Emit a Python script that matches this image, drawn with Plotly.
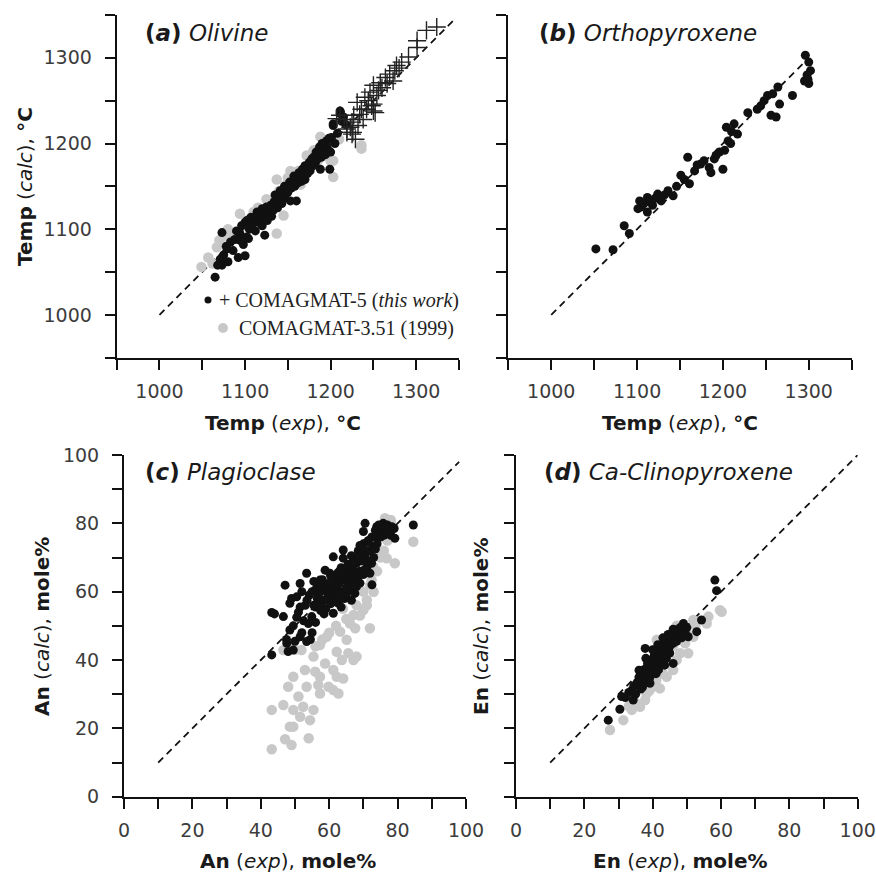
import plotly.graph_objects as go

# ---------------- data ----------------
# (a) Olivine: Temp(exp) vs Temp(calc)
OL_NEW_X = [1065,1068,1071,1073,1075,1078,1080,1083,1086,1088,1090,1092,1094,1096,1098,1100,1100,1102,1104,1105,
            1107,1108,1110,1112,1114,1115,1116,1118,1120,1120,1122,1123,1125,1126,1128,1130,1131,1133,1134,1135,
            1137,1138,1140,1141,1143,1145,1146,1147,1149,1150,1152,1153,1154,1156,1157,1158,1160,1160,1162,1163,
            1164,1166,1167,1168,1170,1170,1172,1173,1175,1176,1178,1179,1180,1182,1183,1185,1186,1187,1188,1189,
            1190,1191,1192,1194,1195,1196,1198,1199,1200,1201,1203,1205,1208,1211,1211,1213,1215,1218,1203,1073,
            1079,1102,1094]
OL_NEW_Y = [1044,1058,1065,1096,1070,1080,1062,1085,1075,1088,1098,1067,1095,1104,1082,1069,1108,1110,1089,1100,
            1114,1105,1112,1098,1120,1108,1118,1112,1104,1124,1116,1093,1126,1110,1120,1128,1115,1122,1132,1140,
            1133,1125,1138,1145,1130,1142,1150,1137,1149,1143,1155,1133,1148,1155,1162,1150,1133,1160,1154,1166,
            1161,1156,1170,1163,1158,1174,1172,1165,1178,1168,1182,1174,1184,1177,1190,1182,1190,1196,1170,1184,
            1200,1192,1196,1187,1203,1195,1206,1170,1190,1207,1221,1200,1212,1235,1238,1226,1231,1222,1223,1058,
            1077,1091,1087]
OL_NEW_HT_X = [1207,1211,1216,1219,1219,1223,1225,1225,1226,1227,1229,1231,1232,1234,1236,1238,1240,1242,1244,1246,
               1248,1250,1250,1250,1252,1254,1256,1258,1260,1264,1266,1269,1273,1275,1277,1280,1283,1291,1301,1301,
               1312,1324]
OL_NEW_HT_Y = [1229,1233,1228,1217,1213,1219,1225,1211,1213,1233,1205,1248,1221,1234,1240,1228,1254,1240,1250,1260,
               1244,1268,1246,1238,1236,1256,1262,1271,1265,1277,1270,1281,1273,1285,1291,1288,1295,1301,1312,1320,
               1332,1336]
OL_OLD_X = [1049,1057,1062,1067,1070,1075,1080,1085,1094,1098,1105,1110,1115,1120,1125,1130,1137,1137,1140,1145,
            1148,1150,1153,1158,1162,1165,1170,1175,1180,1185,1188,1190,1195,1200,1203,1203,1210,1236,1236,1172,1180]
OL_OLD_Y = [1056,1067,1060,1079,1087,1092,1100,1095,1118,1105,1112,1120,1125,1118,1135,1130,1095,1158,1145,1116,
            1152,1160,1168,1158,1168,1152,1165,1170,1175,1180,1208,1185,1190,1180,1161,1180,1205,1198,1194,1186,1192]

# (b) Orthopyroxene
OPX_X = [1052,1072,1085,1091,1103,1105,1112,1112,1118,1124,1128,1136,1142,1151,1161,1159,1167,1174,1184,1186,
         1192,1200,1202,1206,1204,1213,1217,1229,1244,1248,1252,1256,1262,1266,1264,1281,1296,1300,1302,1299,
         1300,1295,1101,1108,1115,1121,1132,1146,1155,1170,1178,1190,1196,1209,1210,1240,1258,1298]
OPX_Y = [1077,1076,1104,1095,1133,1126,1137,1120,1128,1141,1133,1145,1139,1163,1153,1184,1168,1176,1172,1166,
         1186,1170,1192,1203,1219,1223,1211,1236,1244,1250,1256,1233,1231,1246,1266,1256,1303,1295,1285,1275,
         1270,1273,1124,1130,1132,1136,1140,1150,1158,1175,1180,1182,1190,1200,1214,1240,1258,1280]

# (c) Plagioclase: An(exp) vs An(calc)
PL_NEW_X = [43.2,43.2,44.0,46.6,47.1,47.6,48.0,48.5,48.5,49.5,49.0,50.0,50.5,51.0,51.5,51.5,52.0,52.5,53.0,53.4,
            53.4,53.9,54.2,54.9,55.0,55.5,55.9,56.0,56.5,57.3,57.5,58.0,58.8,58.5,59.0,59.5,60.2,60.0,60.5,61.2,
            61.2,61.2,61.5,62.0,62.7,62.5,63.0,63.5,64.1,64.1,64.0,64.5,65.1,65.0,65.5,66.1,66.0,66.5,67.1,67.0,
            67.5,68.0,68.0,68.5,69.0,69.5,69.5,70.0,70.0,70.5,70.5,71.0,71.5,71.9,72.0,72.4,72.9,73.0,73.4,73.9,
            74.0,74.5,75.8,75.5,76.0,76.8,77.0,78.3,78.0,79.2,79.0,84.6,52.0,54.5,56.0,57.0,59.5,60.5,62.0,63.0,
            66.5,67.5,68.5,69.0,70.0,71.0,72.5,63.5,58.5,61.0,55.5,49.5,50.5,47.5,
            56.5,57.0,58.0,59.0,60.0,60.5,61.5,62.5,63.0,63.5,64.5,65.5,66.0,66.5,67.5,68.5,69.0,70.0,71.0,71.5,
            72.5,73.5,74.5,75.0,76.5,77.5,65.0,63.0,59.5,57.5,67.5,70.5,73.5,55.0,53.5,51.5]
PL_NEW_Y = [41.5,53.9,53.5,52.7,61.9,44.9,42.5,48.8,56.6,42.9,58.0,45.5,58.5,54.0,46.8,62.4,60.0,51.5,56.0,45.4,
            65.4,50.7,59.0,52.7,48.0,63.0,60.5,55.5,58.0,63.4,54.5,61.0,66.3,57.5,55.0,62.0,65.4,59.0,56.5,53.7,
            61.5,70.2,64.0,58.5,56.6,62.0,66.0,60.0,69.8,72.2,63.5,58.0,59.5,66.0,62.5,63.4,68.0,60.5,66.3,70.0,
            64.0,68.3,61.5,72.0,66.0,72.2,69.0,77.6,74.0,80.0,70.5,67.0,75.0,65.4,72.0,68.3,73.2,70.0,76.1,79.0,
            74.0,77.0,80.0,78.0,76.5,77.1,79.5,79.0,76.5,75.6,78.5,79.5,48.0,46.0,51.0,57.0,59.5,60.0,64.5,58.0,
            57.5,59.5,64.5,62.5,65.0,69.0,62.0,55.5,53.5,57.5,56.0,50.0,52.5,46.0,
            62.5,59.5,63.5,60.5,62.5,64.5,60.0,65.5,62.5,67.0,64.5,68.0,65.5,70.5,68.5,70.0,73.5,71.5,74.5,72.0,
            76.0,78.0,79.5,76.0,78.5,77.5,61.0,59.5,57.5,56.0,62.0,66.5,72.5,60.0,57.5,55.5]
PL_OLD_X = [43.2,43.2,46.6,47.1,49.0,48.5,48.0,49.5,49.5,51.0,51.5,52.4,54.0,54.4,55.4,52.9,53.4,55.9,57.3,56.8,
            55.4,57.3,59.3,58.8,59.8,61.2,62.2,62.7,62.2,63.2,63.7,65.1,65.6,67.1,68.0,66.1,67.6,71.9,67.1,70.0,
            71.0,72.4,72.9,76.8,79.2,84.6,76.3,46.6,51.9,64.1,61.2,57.3,49.5,68.0,70.0,72.0,74.0,75.0,76.0,77.0,
            78.0,76.5,78.0,73.0,71.0,69.0,65.0,64.0,62.0,60.0,58.0,56.0,50.0,48.0]
PL_OLD_Y = [13.9,25.4,26.8,16.8,15.1,20.5,32.2,35.1,25.4,29.3,23.4,26.3,17.1,22.4,25.4,37.1,32.2,36.6,35.1,32.7,
            41.0,44.4,46.8,39.0,32.2,37.1,35.1,30.2,42.4,48.3,40.0,45.9,42.0,40.0,41.0,50.7,49.3,49.3,53.2,54.6,
            57.6,63.4,67.3,69.8,68.3,74.6,81.5,42.9,42.9,34.6,31.2,30.2,20.5,56.0,60.0,62.0,66.0,70.0,72.0,75.0,
            80.0,81.0,81.0,60.0,56.0,53.0,52.0,55.0,50.0,48.0,46.0,44.0,43.0,44.0]

# (d) Ca-Clinopyroxene: En(exp) vs En(calc)
CPX_NEW_X = [27.0,30.4,30.9,32.0,33.0,33.9,34.3,34.5,35.0,35.5,36.3,36.0,36.5,37.0,37.3,37.5,37.8,38.0,38.0,38.5,
             38.5,39.0,39.2,39.2,39.5,39.5,40.0,40.2,40.5,40.7,41.0,41.0,41.5,41.7,42.0,42.1,42.5,42.6,43.0,43.1,
             43.5,44.0,44.0,44.6,45.0,45.1,45.5,46.0,46.0,46.5,47.0,47.0,47.5,48.0,48.0,48.5,49.0,49.5,50.4,50.0,
             52.9,54.3,58.2,58.7,36.0,38.0,40.0,41.5,43.0,44.5,46.0,37.0,39.0,41.0,43.5,45.0]
CPX_NEW_Y = [22.4,25.6,29.3,29.0,30.5,31.2,28.3,32.5,30.0,33.5,33.2,35.0,31.5,34.5,37.1,35.5,43.4,33.5,37.5,36.0,
             39.0,38.0,35.1,33.2,40.0,37.0,36.0,39.0,41.5,41.0,38.0,43.0,40.0,37.1,42.0,42.9,44.0,39.0,41.0,44.9,
             43.0,45.5,40.5,42.9,44.0,46.8,46.0,44.9,39.0,47.5,48.8,45.5,47.0,47.8,49.5,46.5,50.7,48.0,46.8,49.5,
             48.3,51.7,63.4,60.3,37.0,40.5,43.0,44.5,46.5,47.5,49.0,32.0,34.5,36.0,38.5,42.0]
CPX_OLD_X = [27.5,31.4,33.0,33.9,35.0,36.3,37.8,38.2,39.0,40.0,41.0,41.2,42.1,43.0,44.1,45.1,46.0,47.0,48.0,49.5,
             50.4,51.9,51.9,55.8,56.3,59.7,60.2,38.0,40.0,42.0,44.0,46.0,48.0,50.0,36.0,47.0,45.5,52.5]
CPX_OLD_Y = [19.5,22.4,26.5,25.4,27.5,26.3,28.3,30.2,31.0,32.2,34.0,45.9,31.7,36.0,35.1,39.0,37.1,40.0,42.0,44.9,
             42.0,46.8,51.7,50.7,52.7,54.6,54.1,35.0,38.0,40.0,42.0,44.0,46.0,48.0,32.0,50.0,47.0,50.0]

# 1:1 reference lines (start, end) per panel
DIAG_A = [1000, 1345]
DIAG_B = [1000, 1300]
DIAG_C = [10, 98]
DIAG_D = [10, 100]

TEMP_TICKS = [950, 1000, 1050, 1100, 1150, 1200, 1250, 1300, 1350]
TEMP_TEXT = ["", "1000", "", "1100", "", "1200", "", "1300", ""]
PCT_TICKS = [0, 10, 20, 30, 40, 50, 60, 70, 80, 90, 100]
PCT_TEXT = ["0", "", "20", "", "40", "", "60", "", "80", "", "100"]

# ---------------- figure ----------------
W, H = 876, 878
SANS = "DejaVu Sans, Verdana, sans-serif"
SERIF = "Liberation Serif, Times New Roman, serif"
BLACK = "#111111"
GREY = "#c8c8c8"

fig = go.Figure()

def px_x(p):
    return p / W

def px_y(p):
    return 1 - p / H

# panel pixel boxes in window pixels (left, right, top, bottom)
boxes = {
    "a": (116.7, 459.0, 15.0, 357.7),
    "b": (508.3, 851.7, 15.0, 357.7),
    "c": (124.0, 466.0, 455.0, 796.7),
    "d": (516.0, 857.7, 455.0, 796.7),
}
axnames = {"a": ("x", "y"), "b": ("x2", "y2"), "c": ("x3", "y3"), "d": ("x4", "y4")}

def grey_dots(x, y, k):
    xa, ya = axnames[k]
    fig.add_trace(go.Scatter(x=x, y=y, mode="markers", xaxis=xa, yaxis=ya, showlegend=False,
                             marker=dict(color=GREY, size=10.5, line=dict(width=0))))

def black_dots(x, y, k):
    xa, ya = axnames[k]
    fig.add_trace(go.Scatter(x=x, y=y, mode="markers", xaxis=xa, yaxis=ya, showlegend=False,
                             marker=dict(color=BLACK, size=9, line=dict(width=0))))

def diag(d, k):
    xa, ya = axnames[k]
    fig.add_trace(go.Scatter(x=d, y=d, mode="lines", xaxis=xa, yaxis=ya, showlegend=False,
                             line=dict(color=BLACK, width=1.8, dash="7px,5px")))

# (a)
diag(DIAG_A, "a")
grey_dots(OL_OLD_X, OL_OLD_Y, "a")
black_dots(OL_NEW_X, OL_NEW_Y, "a")
fig.add_trace(go.Scatter(x=OL_NEW_HT_X, y=OL_NEW_HT_Y, mode="markers", xaxis="x", yaxis="y", showlegend=False,
                         marker=dict(symbol="cross-thin", size=13, color=BLACK, line=dict(color="#222222", width=1.4))))
# (b)
diag(DIAG_B, "b")
black_dots(OPX_X, OPX_Y, "b")
# (c)
diag(DIAG_C, "c")
grey_dots(PL_OLD_X, PL_OLD_Y, "c")
black_dots(PL_NEW_X, PL_NEW_Y, "c")
# (d)
diag(DIAG_D, "d")
grey_dots(CPX_OLD_X, CPX_OLD_Y, "d")
black_dots(CPX_NEW_X, CPX_NEW_Y, "d")

def axis_common(rng, tv, tt, show_labels, standoff):
    return dict(range=rng, tickmode="array", tickvals=tv, ticktext=tt if show_labels else [""] * len(tv),
                showline=True, linecolor=BLACK, linewidth=2, ticks="outside", ticklen=10, tickwidth=2,
                tickcolor=BLACK, showgrid=False, zeroline=False, automargin=False,
                ticklabelstandoff=standoff, ticklabeloverflow="allow",
                tickfont=dict(family=SANS, size=19, color="#3c3c3c"))

layout = dict(width=W, height=H, margin=dict(l=0, r=0, t=0, b=0), paper_bgcolor="white",
              plot_bgcolor="white", showlegend=False)
for k in "abcd":
    l, r, t, b = boxes[k]
    xa, ya = axnames[k]
    xkey = "xaxis" if xa == "x" else "xaxis" + xa[1:]
    ykey = "yaxis" if ya == "y" else "yaxis" + ya[1:]
    if k in "ab":
        xr, tv, tt = [950, 1350], TEMP_TICKS, TEMP_TEXT
    else:
        xr, tv, tt = [0, 100], PCT_TICKS, PCT_TEXT
    xd = axis_common(xr, tv, tt, True, 5)
    xd.update(domain=[px_x(l), px_x(r)], anchor=ya)
    yd = axis_common(xr, tv, tt, k in "ac", 9)
    yd.update(domain=[px_y(b), px_y(t)], anchor=xa)
    layout[xkey] = xd
    layout[ykey] = yd
fig.update_layout(**layout)

ann = []
def text(x, y, s, size, xanchor="center", family=SANS, color="#1a1a1a", angle=0):
    ann.append(dict(x=px_x(x), y=px_y(y), xref="paper", yref="paper", text=s, showarrow=False,
                    xanchor=xanchor, yanchor="middle", textangle=angle,
                    font=dict(family=family, size=size, color=color)))

# panel titles
text(143, 33, "<b>(<i>a</i>)</b> <i>Olivine</i>", 23, "left")
text(536.7, 33, "<b>(<i>b</i>)</b> <i>Orthopyroxene</i>", 23, "left")
text(143, 472, "<b>(<i>c</i>)</b> <i>Plagioclase</i>", 23, "left")
text(541.7, 472, "<b>(<i>d</i>)</b> <i>Ca-Clinopyroxene</i>", 23, "left")

# axis titles
text(283, 423, "<b>Temp</b> (<i>exp</i>), <b>°C</b>", 20)
text(680, 423, "<b>Temp</b> (<i>exp</i>), <b>°C</b>", 20)
text(288, 861, "<b>An</b> (<i>exp</i>), <b>mole%</b>", 20)
text(680, 861, "<b>En</b> (<i>exp</i>), <b>mole%</b>", 20)
text(25, 187, "<b>Temp</b> (<i>calc</i>), <b>°C</b>", 20, angle=-90)
text(42, 627, "<b>An</b> (<i>calc</i>), <b>mole%</b>", 20, angle=-90)
text(481, 627, "<b>En</b> (<i>calc</i>), <b>mole%</b>", 20, angle=-90)

# legend in panel (a)
text(217, 300, "+ COMAGMAT-5 (<i>this work</i>)", 20, "left", SERIF, "#222222")
text(237, 328, "COMAGMAT-3.51 (1999)", 20, "left", SERIF, "#222222")
fig.update_layout(annotations=ann)

shapes = [
    dict(type="circle", xref="paper", yref="paper", x0=px_x(204.5), x1=px_x(211.5), y0=px_y(303.5), y1=px_y(296.5),
         fillcolor=BLACK, line=dict(width=0)),
    dict(type="circle", xref="paper", yref="paper", x0=px_x(218), x1=px_x(228), y0=px_y(333), y1=px_y(323),
         fillcolor=GREY, line=dict(width=0)),
]
fig.update_layout(shapes=shapes)

# remove the default 8 px body margin so the 876x878 figure fills the window exactly
fig.write_html("out.html", config={"displayModeBar": False},
               post_script="document.body.style.margin='0';")
